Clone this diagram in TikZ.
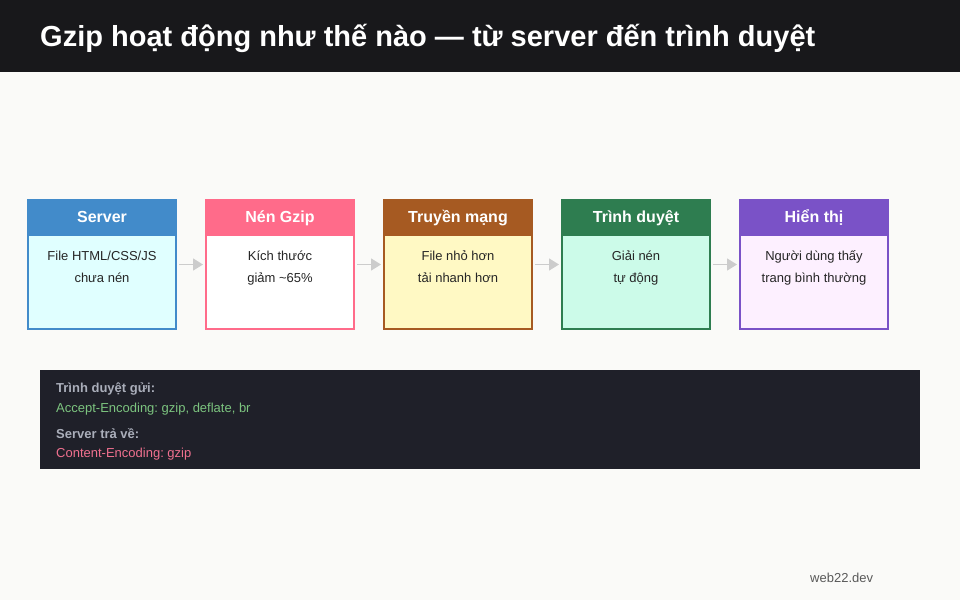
\documentclass[tikz,border=0pt]{standalone}
\usepackage{fontspec}
\setmainfont{Liberation Sans}
\usetikzlibrary{arrows.meta}
\frenchspacing

\definecolor{pagebg}{RGB}{250,250,248}
\definecolor{barbg}{RGB}{24,24,27}
\definecolor{codebg}{RGB}{31,32,41}
\definecolor{srvC}{RGB}{66,139,202}
\definecolor{srvL}{RGB}{224,255,255}
\definecolor{gzC}{RGB}{255,107,138}
\definecolor{gzL}{RGB}{255,255,255}
\definecolor{netC}{RGB}{166,90,34}
\definecolor{netL}{RGB}{255,249,196}
\definecolor{brwC}{RGB}{46,125,80}
\definecolor{brwL}{RGB}{204,251,233}
\definecolor{shwC}{RGB}{122,82,199}
\definecolor{shwL}{RGB}{253,240,255}
\definecolor{lblgrey}{RGB}{170,174,186}
\definecolor{okgreen}{RGB}{124,196,127}
\definecolor{respink}{RGB}{240,112,143}
\definecolor{arrgrey}{RGB}{204,204,204}

\begin{document}
\begin{tikzpicture}[x=1pt,y=-1pt,
   stage/.style={draw,line width=2pt,minimum width=148pt,minimum height=129pt,
     inner sep=0pt,outer sep=0pt},
   ttl/.style={anchor=base,inner sep=0pt,text=white,font=\fontsize{16}{19}\selectfont\bfseries},
   txt/.style={anchor=base,inner sep=0pt,text=black!85,font=\fontsize{13}{15}\selectfont},
   code/.style={anchor=base west,inner sep=0pt,font=\fontsize{13}{15}\selectfont},
   flow/.style={draw=arrgrey,line width=1.5pt,shorten <=3pt,shorten >=3pt,
     -{Triangle[length=10pt,width=12pt]}}]
   \fill[pagebg] (0,0) rectangle (960,600);
   \fill[barbg] (0,0) rectangle (960,72);
   \node[anchor=base west,inner sep=0pt,text=white,
     font=\fontsize{29}{33}\selectfont\bfseries] (title) at (40,46)
     {Gzip hoạt động như thế nào — từ server đến trình duyệt};
   % five stages
   \foreach \i/\nm/\c/\l/\ta/\tb in {
      1/Server/srvC/srvL/{File HTML/CSS/JS}/chưa nén,
      2/Nén Gzip/gzC/gzL/Kích thước/giảm \textasciitilde65\%,
      3/Truyền mạng/netC/netL/File nhỏ hơn/tải nhanh hơn,
      4/Trình duyệt/brwC/brwL/Giải nén/tự động,
      5/Hiển thị/shwC/shwL/Người dùng thấy/trang bình thường} {
    \pgfmathsetmacro\x{102+(\i-1)*178}
    \node[stage,draw=\c,fill=\l] (s\i) at (\x,264.5) {};
    \fill[\c] (s\i.north west) rectangle ++(148,36);
    \node[ttl] (h\i) at (\x,222) {\nm};
    \node[txt] (a\i) at (\x,260.5) {\ta};
    \node[txt] (b\i) at (\x,282.5) {\tb};
   }
   \foreach \i [evaluate=\i as \j using int(\i+1)] in {1,...,4}
    \draw[flow] (s\i) -- (s\j);
   % headers panel
   \fill[codebg] (40,370) rectangle (920,469);
   \node[code,text=lblgrey,font=\fontsize{13}{15}\selectfont\bfseries] (q1) at (56,392) {Trình duyệt gửi:};
   \node[code,text=okgreen] (q2) at (56,412) {Accept-Encoding: gzip, deflate, br};
   \node[code,text=lblgrey,font=\fontsize{13}{15}\selectfont\bfseries] (r1) at (56,438) {Server trả về:};
   \node[code,text=respink] (r2) at (56,457.5) {Content-Encoding: gzip};
   \node[anchor=base west,inner sep=0pt,text=black!65,font=\fontsize{13}{15}\selectfont] (site) at (810,582) {web22.dev};
\end{tikzpicture}
\end{document}
